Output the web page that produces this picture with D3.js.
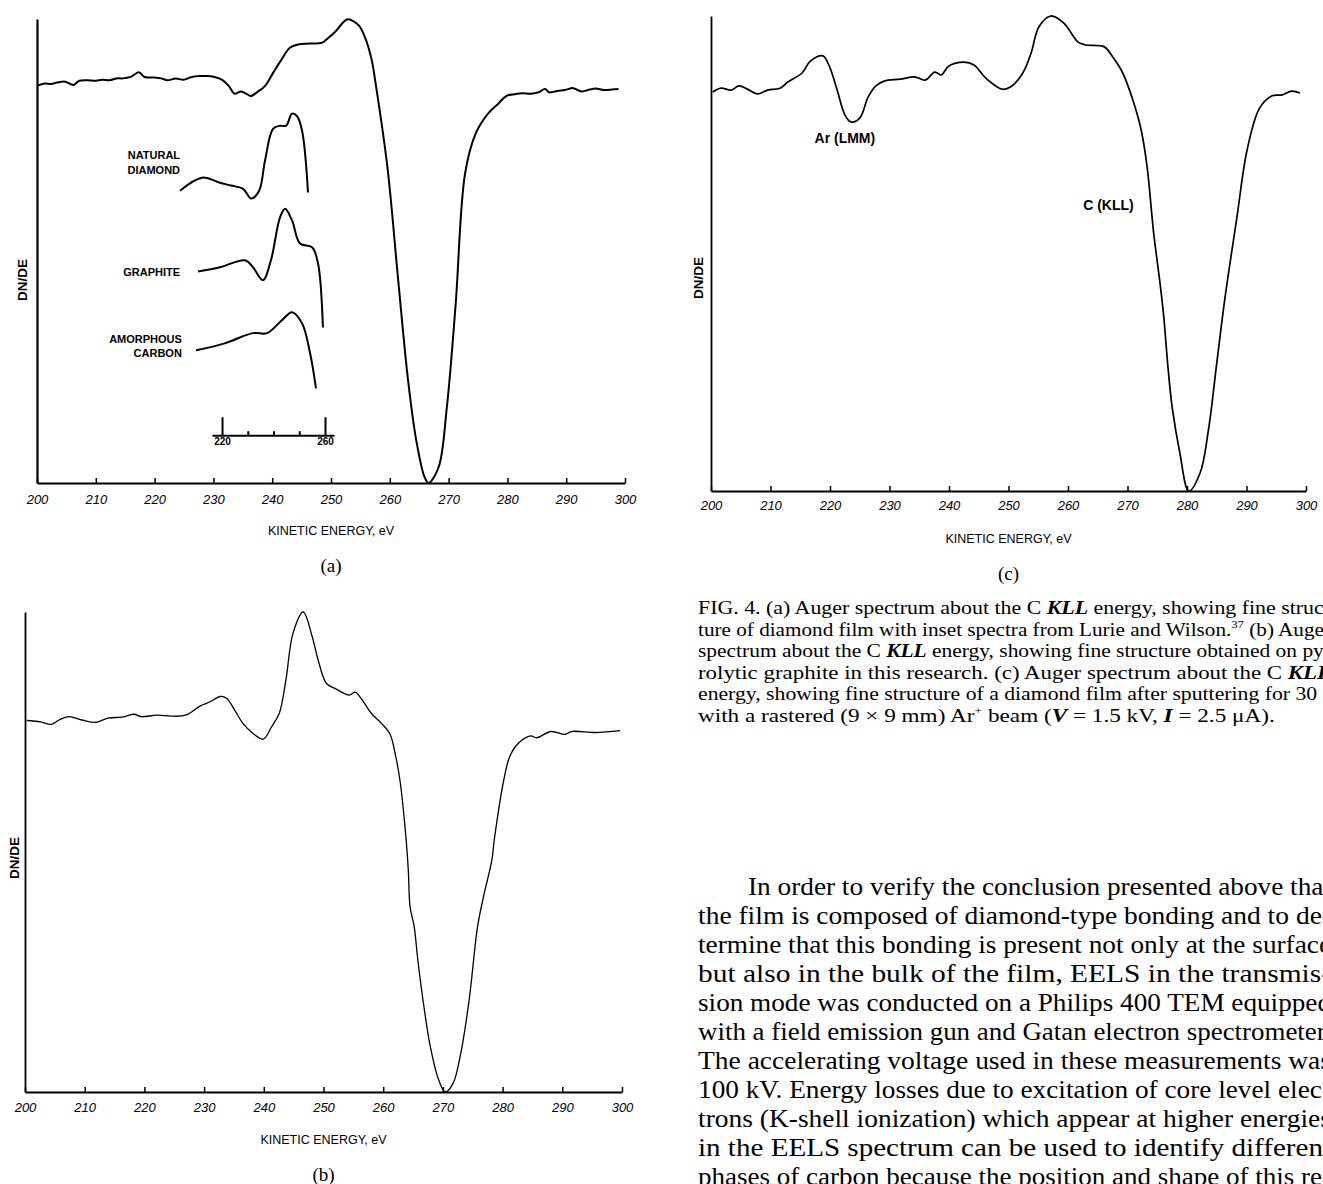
<!DOCTYPE html>
<html>
<head>
<meta charset="utf-8">
<script src="https://cdn.jsdelivr.net/npm/d3@7"></script>
<style>
  body { margin: 0; background: #fff; }
  svg { display: block; }
  .tick text { font-family: "Liberation Sans", Arial, sans-serif; }
</style>
</head>
<body>
<svg id="fig" width="1323" height="1184"></svg>
<script>
// ---- data (kinetic energy in eV, dN/dE in arbitrary units, 0 = deepest dip, 100 = top peak)
const energyTicks = [200, 210, 220, 230, 240, 250, 260, 270, 280, 290, 300];

// (a) diamond film
const spectrumA = [
  [200.0, 85.6], [201.3, 86.1], [202.4, 86.0], [203.4, 86.3], [204.8, 86.5], [206.2, 85.8],
  [207.2, 86.7], [208.6, 86.8], [210.0, 86.7], [211.1, 86.9], [212.4, 86.8], [213.5, 87.2],
  [214.5, 87.2], [215.9, 87.5], [217.3, 88.5], [218.3, 87.5], [219.7, 87.4], [221.1, 87.2],
  [222.2, 86.8], [223.6, 87.2], [224.9, 86.9], [226.3, 87.5], [227.7, 87.7], [229.1, 87.7],
  [230.5, 87.4], [231.5, 86.9], [232.6, 85.6], [233.6, 83.9], [234.7, 84.4], [235.7, 83.8],
  [236.4, 83.4], [237.4, 84.2], [238.8, 85.6], [240.2, 88.5], [241.6, 91.3], [243.0, 93.8],
  [244.4, 94.5], [246.4, 94.7], [248.5, 94.9], [249.6, 96.0], [250.6, 97.1], [252.7, 99.9],
  [253.7, 99.6], [254.8, 98.5], [255.8, 96.0], [256.9, 91.3], [257.6, 86.0], [259.6, 68.0],
  [261.4, 44.1], [263.1, 22.2], [264.5, 9.2], [265.9, 1.3], [266.6, 0.0], [268.3, 3.4],
  [269.7, 16.3], [271.2, 38.5], [272.8, 66.7], [274.6, 75.3], [276.7, 79.6], [278.4, 81.7],
  [279.8, 83.4], [281.2, 83.8], [282.6, 84.0], [283.9, 83.9], [285.3, 84.2], [286.4, 84.9],
  [287.1, 84.2], [288.5, 84.5], [289.8, 84.7], [291.2, 85.1], [292.6, 84.4], [294.0, 84.8],
  [295.0, 85.0], [296.4, 84.7], [297.8, 84.8], [298.9, 84.9]
];

// (a) inset spectra from Lurie and Wilson (inset energy scale, offset traces)
const insetDiamond = [
  [203.7, 63.0], [212.2, 65.8], [219.2, 64.7], [223.5, 64.1], [228.2, 63.4], [231.3, 61.3],
  [234.4, 63.0], [236.7, 69.5], [239.8, 76.3], [242.5, 77.0], [244.9, 77.0], [247.2, 79.6],
  [249.1, 79.1], [251.1, 75.9], [253.4, 62.6]
];
const insetGraphite = [
  [210.7, 45.6], [219.2, 46.5], [228.9, 48.0], [232.0, 46.5], [235.9, 43.7], [239.0, 48.0],
  [242.5, 57.2], [244.5, 59.1], [247.2, 56.6], [250.3, 51.6], [255.0, 50.8], [257.3, 47.3],
  [259.2, 33.5]
];
const insetAmorphous = [
  [209.9, 28.6], [221.0, 30.1], [232.0, 32.3], [237.5, 32.3], [243.3, 35.1], [247.2, 36.8],
  [251.1, 34.4], [254.2, 28.0], [256.5, 20.4]
];
const insetTicks = [220, 230, 240, 250, 260];
const insetLabelled = [220, 260];

// (b) pyrolytic graphite
const spectrumB = [
  [200.3, 77.4], [202.6, 77.1], [204.4, 76.6], [205.7, 77.5], [207.3, 78.2], [209.5, 77.5],
  [211.9, 77.0], [213.9, 77.9], [216.3, 78.1], [218.3, 78.7], [219.4, 78.2], [222.1, 78.5],
  [224.5, 78.3], [226.9, 78.5], [229.3, 80.4], [231.0, 81.3], [232.7, 82.4], [233.8, 82.0],
  [235.1, 79.6], [236.5, 76.8], [238.2, 74.7], [239.9, 73.5], [241.3, 76.1], [242.6, 78.9],
  [243.7, 85.8], [244.9, 95.6], [246.6, 100.0], [248.1, 94.9], [249.1, 90.0], [250.5, 85.1],
  [251.9, 84.1], [254.3, 82.7], [255.3, 83.3], [256.3, 82.0], [258.0, 78.9], [259.7, 76.8],
  [261.1, 74.7], [262.1, 69.9], [262.8, 65.0], [263.7, 54.6], [264.2, 46.3], [264.5, 38.6],
  [265.2, 34.4], [265.8, 27.5], [266.9, 17.1], [267.9, 9.4], [269.3, 2.5], [270.4, 0.0],
  [271.7, 1.8], [273.0, 8.1], [274.4, 19.2], [275.8, 34.4], [276.8, 40.7], [278.2, 48.3],
  [278.6, 52.5], [280.2, 65.0], [281.2, 69.9], [282.6, 72.6], [284.7, 74.2], [285.7, 73.8],
  [288.1, 75.1], [290.5, 74.5], [291.5, 75.1], [295.6, 74.9], [299.7, 75.3]
];

// (c) diamond film after Ar+ sputtering
const spectrumC = [
  [200.3, 84.0], [201.7, 84.8], [203.4, 84.4], [204.7, 85.3], [206.1, 84.6], [207.8, 83.6],
  [209.5, 84.4], [211.6, 84.8], [212.9, 86.1], [215.3, 88.0], [216.7, 90.5], [218.8, 91.6],
  [219.8, 89.7], [221.2, 84.4], [222.5, 79.2], [223.5, 77.7], [225.0, 78.5], [226.4, 82.9],
  [227.7, 85.3], [229.1, 86.3], [231.8, 86.7], [234.2, 87.2], [236.0, 86.5], [237.6, 88.2],
  [238.7, 87.6], [240.0, 89.5], [242.5, 90.3], [244.2, 89.7], [246.2, 86.9], [248.9, 84.6],
  [250.4, 85.1], [252.4, 88.0], [253.8, 92.2], [255.1, 97.7], [257.1, 100.0], [259.3, 98.5],
  [261.7, 94.5], [263.0, 93.9], [266.1, 93.5], [267.5, 91.4], [269.2, 88.0], [270.9, 82.3],
  [272.3, 76.0], [273.3, 68.2], [274.4, 54.3], [275.5, 43.4], [276.1, 36.6], [276.8, 26.1],
  [277.5, 17.7], [278.8, 8.0], [280.3, 0.0], [282.2, 3.8], [283.6, 12.8], [285.0, 26.9],
  [286.4, 40.8], [288.4, 57.7], [290.1, 71.8], [292.2, 80.6], [294.3, 83.2], [296.0, 83.4],
  [297.6, 84.2], [299.0, 83.8]
];

const captionLines = [
  ["FIG. 4.  (a) Auger spectrum about the C ", ["KLL", "i"], " energy, showing fine struc-"],
  ["ture of diamond film with inset spectra from Lurie and Wilson.", ["37", "sup"], " (b) Auger"],
  ["spectrum about the C ", ["KLL", "i"], " energy, showing fine structure obtained on py-"],
  ["rolytic graphite in this research. (c) Auger spectrum about the C ", ["KLL", "i"]],
  ["energy, showing fine structure of a diamond film after sputtering for 30 s"],
  ["with a rastered (9 \u00d7 9 mm) Ar", ["+", "sup"], " beam (", ["V", "i"], " = 1.5 kV, ", ["I", "i"], " = 2.5 \u03bcA)."]
];

const bodyLines = [
  "In order to verify the conclusion presented above that",
  "the film is composed of diamond-type bonding and to de-",
  "termine that this bonding is present not only at the surface",
  "but also in the bulk of the film, EELS in the transmis-",
  "sion mode was conducted on a Philips 400 TEM equipped",
  "with a field emission gun and Gatan electron spectrometer.",
  "The accelerating voltage used in these measurements was",
  "100 kV. Energy losses due to excitation of core level elec-",
  "trons (K-shell ionization) which appear at higher energies",
  "in the EELS spectrum can be used to identify different",
  "phases of carbon because the position and shape of this re-"
];

// ---- drawing
const svg = d3.select("#fig");
const sans = "'Liberation Sans', Arial, Helvetica, sans-serif";
const serif = "'Liberation Serif', 'Times New Roman', serif";

function panel(opts) {
  const x = d3.scaleLinear().domain([200, 300]).range([opts.left, opts.right]);
  const y = d3.scaleLinear().domain([0, 100]).range([opts.bottom, opts.top]);
  const g = svg.append("g");

  const xAxis = g.append("g")
    .attr("transform", `translate(0,${opts.bottom})`)
    .call(d3.axisBottom(x).tickValues(energyTicks).tickSizeInner(-5).tickSizeOuter(0).tickPadding(opts.pad));
  xAxis.select(".domain").attr("stroke-width", opts.axisWidth);
  xAxis.selectAll(".tick line").attr("stroke-width", 1.5);
  xAxis.selectAll(".tick text").attr("font-size", 13).attr("fill", "#000")
    .style("font-style", "italic");

  const yAxis = g.append("g")
    .attr("transform", `translate(${opts.left},0)`)
    .call(d3.axisLeft(y).tickValues([]).tickSizeOuter(0));
  yAxis.select(".domain").attr("stroke-width", opts.axisWidth);

  const line = d3.line()
    .x(d => x(d[0])).y(d => y(d[1]))
    .curve(d3.curveCatmullRom.alpha(0.5));
  g.append("path").datum(opts.data)
    .attr("d", line).attr("fill", "none")
    .attr("stroke", "#000").attr("stroke-width", opts.lineWidth)
    .attr("stroke-linejoin", "round");

  const cx = (opts.left + opts.right) / 2;
  g.append("text").attr("x", cx).attr("y", opts.bottom + 52)
    .attr("text-anchor", "middle").attr("font-family", sans).attr("font-size", 12.5)
    .text("KINETIC ENERGY, eV");
  g.append("text").attr("x", cx).attr("y", opts.bottom + 89)
    .attr("text-anchor", "middle").attr("font-family", serif).attr("font-size", 19)
    .text(opts.tag);
  g.append("text")
    .attr("transform", `translate(${opts.labelX},${opts.labelY}) rotate(-90)`)
    .attr("text-anchor", "middle").attr("font-family", sans).attr("font-weight", "bold")
    .attr("font-size", 13.5).text("DN/DE");
  return { g, x, y };
}

// (a)
const pa = panel({ left: 37, right: 625, top: 19, bottom: 483, data: spectrumA,
  lineWidth: 2, axisWidth: 2.2, tag: "(a)", labelX: 27, labelY: 280, pad: 12 });

const insetX = d3.scaleLinear().domain([216.1, 263.5]).range([212, 334]);
const insetLine = d3.line()
  .x(d => insetX(d[0])).y(d => pa.y(d[1]))
  .curve(d3.curveCatmullRom.alpha(0.5));
[insetDiamond, insetGraphite, insetAmorphous].forEach(s => {
  pa.g.append("path").datum(s).attr("d", insetLine)
    .attr("fill", "none").attr("stroke", "#000").attr("stroke-width", 2)
    .attr("stroke-linejoin", "round");
});

const insetAxis = pa.g.append("g")
  .attr("transform", `translate(0,${pa.y(10.3)})`)
  .call(d3.axisBottom(insetX).tickValues(insetTicks).tickSizeInner(-4).tickSizeOuter(0)
    .tickPadding(3).tickFormat(d => insetLabelled.includes(d) ? d : ""));
insetAxis.select(".domain").attr("stroke-width", 2);
insetAxis.selectAll(".tick line").attr("stroke-width", 2)
  .filter(d => insetLabelled.includes(d)).attr("y2", -18);
insetAxis.selectAll(".tick text").attr("font-size", 10).attr("font-weight", "bold")
  .attr("fill", "#000");

const insetNames = [
  ["NATURAL", 203.7, 69.8], ["DIAMOND", 203.7, 66.7], ["GRAPHITE", 203.7, 44.6],
  ["AMORPHOUS", 204.4, 30.2], ["CARBON", 204.4, 27.1]
];
pa.g.selectAll("text.inset-name").data(insetNames).join("text")
  .attr("class", "inset-name")
  .attr("x", d => insetX(d[1])).attr("y", d => pa.y(d[2]))
  .attr("text-anchor", "end")
  .attr("font-family", sans)
  .attr("font-weight", "bold").attr("font-size", 11)
  .text(d => d[0]);

// (c)
const pc = panel({ left: 711, right: 1306, top: 16, bottom: 491, data: spectrumC,
  lineWidth: 1.7, axisWidth: 1.8, tag: "(c)", labelX: 703, labelY: 278, pad: 10 });
pc.g.append("text").attr("x", pc.x(222.5)).attr("y", pc.y(73.2))
  .attr("text-anchor", "middle").attr("font-family", sans).attr("font-size", 14)
  .attr("font-weight", "bold").text("Ar  (LMM)");
pc.g.append("text").attr("x", pc.x(266.8)).attr("y", pc.y(59.1))
  .attr("text-anchor", "middle").attr("font-family", sans).attr("font-size", 14)
  .attr("font-weight", "bold").text("C  (KLL)");

// (b)
panel({ left: 25, right: 622, top: 612, bottom: 1092, data: spectrumB,
  lineWidth: 1.3, axisWidth: 1.8, tag: "(b)", labelX: 19, labelY: 858, pad: 11 });

// ---- caption and body text; lines are justified to the column by stretching
const colLeft = 698, colRight = 1331;

function writeLines(lines, opts) {
  lines.forEach((parts, i) => {
    const left = colLeft + (i === 0 ? opts.indent : 0);
    const t = svg.append("text")
      .attr("x", left)
      .attr("y", opts.y0 + i * opts.dy)
      .attr("font-family", serif).attr("font-size", opts.size);
    let lift = 0;
    (Array.isArray(parts) ? parts : [parts]).forEach(p => {
      const s = t.append("tspan");
      if (lift) { s.attr("dy", lift); lift = 0; }
      if (typeof p === "string") { s.text(p); return; }
      s.text(p[0]);
      if (p[1] === "i") s.attr("font-style", "italic").attr("font-weight", "bold");
      if (p[1] === "sup") {
        s.attr("font-size", opts.size * 0.6).attr("dy", -opts.size * 0.4);
        lift = opts.size * 0.4;
      }
    });
    const natural = t.node().getComputedTextLength();
    const target = (opts.ragged && opts.ragged.includes(i))
      ? natural * opts.stretch : colRight - left;
    t.attr("textLength", target).attr("lengthAdjust", "spacingAndGlyphs");
  });
}

writeLines(captionLines, { y0: 614, dy: 21.5, size: 19, indent: 0, ragged: [5], stretch: 1.22 });
writeLines(bodyLines, { y0: 895, dy: 29, size: 25.5, indent: 50 });
</script>
</body>
</html>
